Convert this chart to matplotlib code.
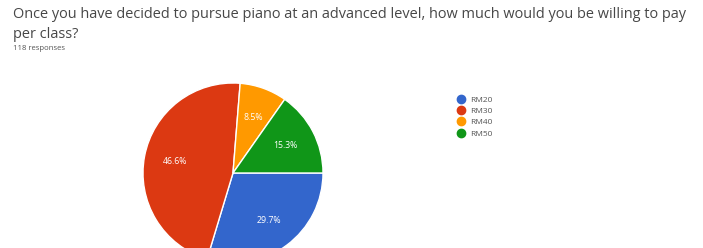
import matplotlib
matplotlib.use("Agg")
import matplotlib.pyplot as plt
from matplotlib.lines import Line2D
import numpy as np

categories = ["RM20", "RM30", "RM40", "RM50"]
counts = [35, 55, 10, 18]
pct_labels = ["29.7%", "46.6%", "8.5%", "15.3%"]
colors = ["#3366cc", "#dc3912", "#ff9900", "#109618"]
title = "Once you have decided to pursue piano at an advanced level, how much would you be willing to pay"
title2 = "per class?"
subtitle = "118 responses"

plt.rcParams['font.family'] = ['Open Sans', 'DejaVu Sans']
W, H = 703, 248
fig = plt.figure(figsize=(W / 100, H / 100), dpi=100)
fig.patch.set_facecolor("white")

t1 = fig.text(13 / W, 1 - 15 / H, title, fontsize=9.5, color="#474747", va="center", ha="left")
renderer = fig.canvas.get_renderer()
w = t1.get_window_extent(renderer).width
fs = 9.5 * 684 / w
t1.set_fontsize(fs)
fig.text(13 / W, 1 - 35 / H, title2, fontsize=fs, color="#474747", va="center", ha="left")
fig.text(13 / W, 1 - 48 / H, subtitle, fontsize=5.6, color="#555555", va="center", ha="left")

cx, cy, r = 233, 173, 90
ax = fig.add_axes([(cx - r) / W, (H - cy - r) / H, 2 * r / W, 2 * r / H])
ax.pie(counts, colors=colors, startangle=0, counterclock=False,
       wedgeprops=dict(edgecolor="white", linewidth=1))
total = sum(counts)
ang = 0.0
for c, lab in zip(counts, pct_labels):
    mid = ang - 360 * c / total / 2
    ang -= 360 * c / total
    d = 0.66
    ax.text(d * np.cos(np.radians(mid)), d * np.sin(np.radians(mid)), lab,
            ha="center", va="center", color="white", fontsize=6.3)
ax.set_xlim(-1, 1)
ax.set_ylim(-1, 1)
ax.set_aspect("equal")
ax.axis("off")

handles = [Line2D([0], [0], marker="o", linestyle="", markersize=6,
                  markerfacecolor=c, markeredgecolor=c) for c in colors]
leg = fig.legend(handles, categories, loc="upper left",
                 bbox_to_anchor=(450 / W, 1 - 90 / H), frameon=False,
                 fontsize=6, handletextpad=0.5, labelspacing=0.42,
                 handlelength=1.2, labelcolor="#555555", borderpad=0.2)

fig.savefig("out.png", dpi=100, facecolor="white")
